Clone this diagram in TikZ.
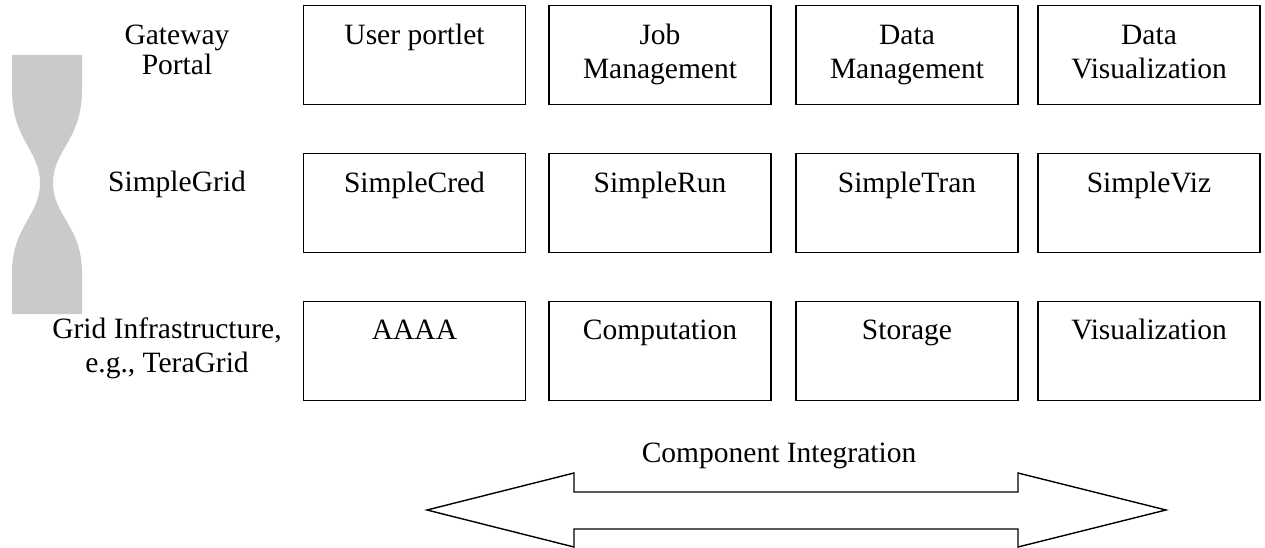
\documentclass[tikz,border=0pt]{standalone}
\usepackage{fontspec}
\setmainfont{Liberation Serif}
\usetikzlibrary{positioning}

\definecolor{neckgray}{RGB}{202,202,202}

\tikzset{
    cell/.style={draw,line width=1.4pt,minimum width=222pt,minimum height=99pt,inner sep=0pt},
    celltext/.style={anchor=base,align=center,inner sep=0pt,font=\fontsize{29.5}{34}\selectfont},
    layertext/.style={anchor=base,align=center,inner sep=0pt,font=\fontsize{29.5}{34}\selectfont}
}

\begin{document}
\begin{tikzpicture}[x=1pt,y=-1pt]
    \useasboundingbox (0,0) rectangle (1265,548);

    \fill[neckgray] (12,55) -- (82,55) -- (82,90)
        .. controls (82,140) and (53,150) .. (53,183)
        .. controls (53,216) and (82,226) .. (82,273)
        -- (82,314) -- (12,314) -- (12,273)
        .. controls (12,226) and (40,216) .. (40,183)
        .. controls (40,150) and (12,140) .. (12,90) -- cycle;

    \node[layertext,font=\fontsize{29.5}{30}\selectfont] (gateway) at (177,75) {Gateway\\Portal};
    \node[layertext] (simplegrid) at (177,191) {SimpleGrid};
    \node[layertext] (infra) at (167,372) {Grid Infrastructure,\\e.g., TeraGrid};

    \node[cell] (portlet) at (414.5,55) {};
    \node[cell] (jobmgmt) at (660,55) {};
    \node[cell] (datamgmt) at (907,55) {};
    \node[cell] (dataviz) at (1149,55) {};
    \node[celltext] (portlet-t) at ([yshift=-40pt]portlet.north) {User portlet};
    \node[celltext] (jobmgmt-t) at ([yshift=-74pt]jobmgmt.north) {Job\\Management};
    \node[celltext] (datamgmt-t) at ([yshift=-74pt]datamgmt.north) {Data\\Management};
    \node[celltext] (dataviz-t) at ([yshift=-74pt]dataviz.north) {Data\\Visualization};

    \node[cell] (cred) at (414.5,203) {};
    \node[cell] (run) at (660,203) {};
    \node[cell] (tran) at (907,203) {};
    \node[cell] (viz) at (1149,203) {};
    \node[celltext] (cred-t) at ([yshift=-40pt]cred.north) {SimpleCred};
    \node[celltext] (run-t) at ([yshift=-40pt]run.north) {SimpleRun};
    \node[celltext] (tran-t) at ([yshift=-40pt]tran.north) {SimpleTran};
    \node[celltext] (viz-t) at ([yshift=-40pt]viz.north) {SimpleViz};

    \node[cell] (aaaa) at (414.5,351) {};
    \node[cell] (comp) at (660,351) {};
    \node[cell] (stor) at (907,351) {};
    \node[cell] (visual) at (1149,351) {};
    \node[celltext] (aaaa-t) at ([yshift=-39pt]aaaa.north) {AAAA};
    \node[celltext] (comp-t) at ([yshift=-39pt]comp.north) {Computation};
    \node[celltext] (stor-t) at ([yshift=-39pt]stor.north) {Storage};
    \node[celltext] (visual-t) at ([yshift=-39pt]visual.north) {Visualization};

    \node[layertext] (integ) at (779,462) {Component Integration};
    \draw[line width=1.4pt,line join=miter] (427,510) -- (574,473) -- (574,492) -- (1018,492)
        -- (1018,473) -- (1166,510) -- (1018,547) -- (1018,529) -- (574,529)
        -- (574,547) -- cycle;
\end{tikzpicture}
\end{document}
